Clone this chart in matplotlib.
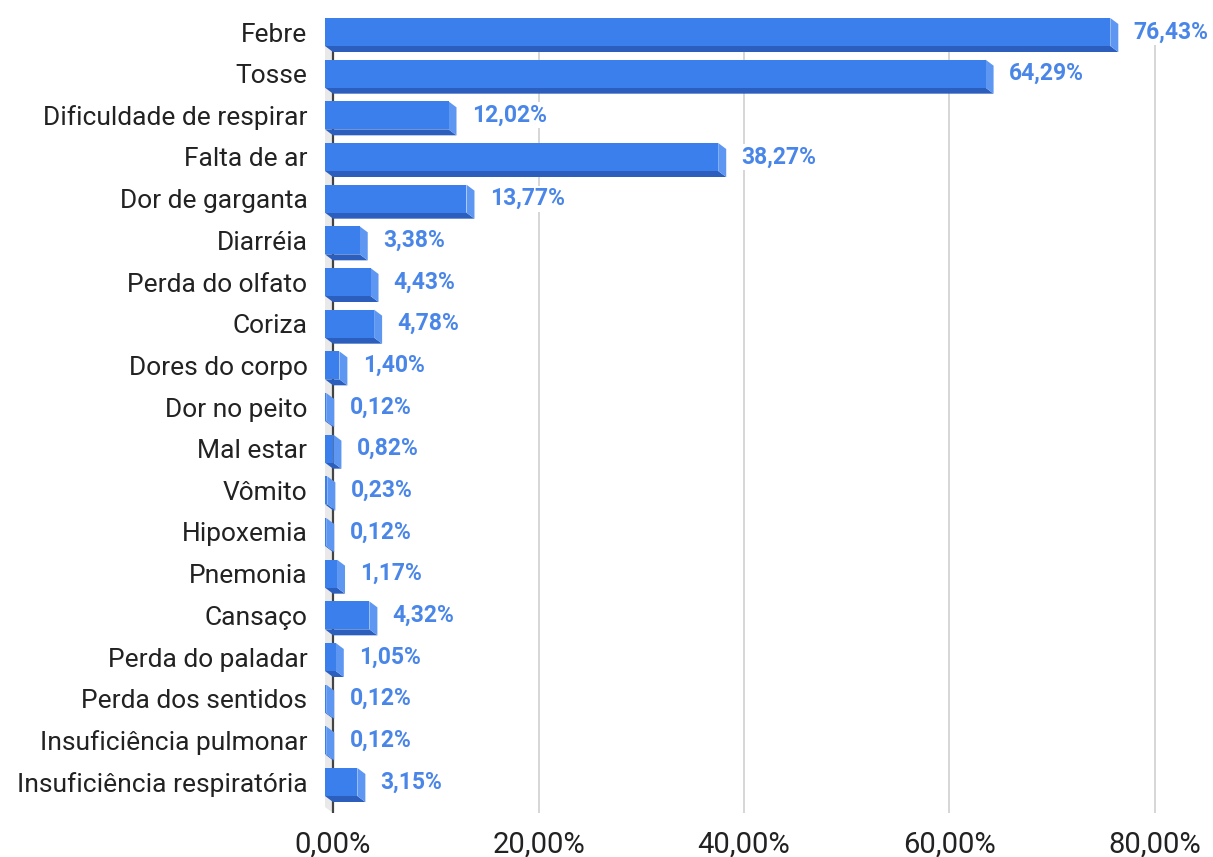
import matplotlib.pyplot as plt
from matplotlib.patches import Polygon

plt.rcParams['font.family'] = ['Roboto', 'DejaVu Sans']

sintomas = ["Febre", "Tosse", "Dificuldade de respirar", "Falta de ar", "Dor de garganta",
            "Diarréia", "Perda do olfato", "Coriza", "Dores do corpo", "Dor no peito",
            "Mal estar", "Vômito", "Hipoxemia", "Pnemonia", "Cansaço", "Perda do paladar",
            "Perda dos sentidos", "Insuficiência pulmonar", "Insuficiência respiratória"]
percentuais = [76.43, 64.29, 12.02, 38.27, 13.77, 3.38, 4.43, 4.78, 1.40, 0.12,
               0.82, 0.23, 0.12, 1.17, 4.32, 1.05, 0.12, 0.12, 3.15]
xticks = [0, 20, 40, 60, 80]

W, H = 1213, 857
fig = plt.figure(figsize=(W / 100, H / 100), dpi=100)

# axes placed in pixels: 0% at 333px, 80% at 1155px, rows from 32px to 782px
px_per_unit = (1155 - 333) / 80
px_per_row = (782 - 32) / 18
ax_left, ax_right, ax_top, ax_bot = 313, 1205, 10, 813
ax = fig.add_axes([ax_left / W, 1 - ax_bot / H, (ax_right - ax_left) / W, (ax_bot - ax_top) / H])
ax.set_xlim((ax_left - 333) / px_per_unit, (ax_right - 333) / px_per_unit)
ymin = (ax_top - 32) / px_per_row
ymax = (ax_bot - 32) / px_per_row
ax.set_ylim(ymax, ymin)

dx = 8 / px_per_unit     # depth offset in x
dy = 6 / px_per_row      # depth offset in y
h = 28 / px_per_row      # front face height

front_c = '#3b7fec'
side_c = '#5e97f2'
bottom_c = '#2b5ebd'

# grid and wall
for t in xticks[1:]:
    ax.plot([t, t], [ymin + 0.25, ymax], color='#d0d0d0', lw=1.2, zorder=1)
ax.add_patch(Polygon([(-dx, ymin + 0.6), (0, ymin + 0.6 + dy), (0, ymax), (-dx, ymax - dy)],
                     closed=True, color='#e9e9e9', lw=0, zorder=1))
ax.plot([0, 0], [ymin + 0.6 + dy, ymax], color='#444444', lw=1.6, zorder=2)

for i, (nome, v) in enumerate(zip(sintomas, percentuais)):
    top = i - h / 2
    bot = i + h / 2
    ax.add_patch(Polygon([(-dx, bot), (v - dx, bot), (v, bot + dy), (0, bot + dy)],
                         closed=True, color=bottom_c, lw=0, zorder=3))
    ax.add_patch(Polygon([(v - dx, top), (v, top + dy), (v, bot + dy), (v - dx, bot)],
                         closed=True, color=side_c, lw=0, zorder=3))
    ax.add_patch(Polygon([(-dx, top), (v - dx, top), (v - dx, bot), (-dx, bot)],
                         closed=True, color=front_c, lw=0, zorder=4))
    ax.annotate(f"{v:.2f}%".replace('.', ','), (v, i), xytext=(11, 0), textcoords='offset points',
                va='center', ha='left', fontsize=16.5, fontweight='bold', color='#4a86e8', zorder=5,
                bbox=dict(facecolor='white', edgecolor='none', pad=1))

ax.set_yticks(range(len(sintomas)))
ax.set_yticklabels(sintomas, fontsize=19, color='#222222')
ax.set_xticks(xticks)
ax.set_xticklabels([f"{t:.2f}%".replace('.', ',') for t in xticks], fontsize=21, color='#222222')
ax.tick_params(axis='both', length=0)
ax.tick_params(axis='y', pad=4)
ax.tick_params(axis='x', pad=13)
for s in ax.spines.values():
    s.set_visible(False)

fig.savefig('out.png', dpi=100)
